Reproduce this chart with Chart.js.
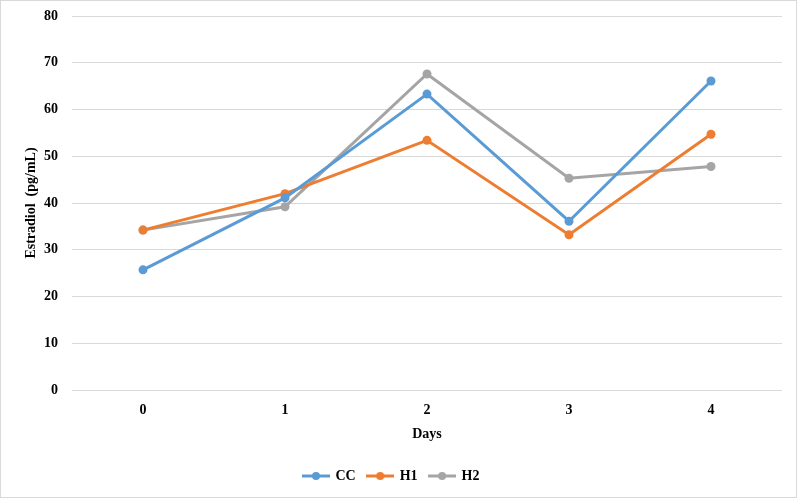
<!DOCTYPE html>
<html>
<head>
<meta charset="utf-8">
<script src="https://cdn.jsdelivr.net/npm/chart.js@4"></script>
<style>
  html, body { margin: 0; padding: 0; background: #fff; }
  #wrap { width: 795px; height: 496px; border: 1px solid #d9d9d9; }
</style>
</head>
<body>
<div id="wrap"><canvas id="chart" width="795" height="496"></canvas></div>
<script>
// データ
const days = ['0', '1', '2', '3', '4'];
const ccValues = [25.7, 41.1, 63.3, 36.1, 66.1];
const h1Values = [34.2, 42.0, 53.4, 33.2, 54.7];
const h2Values = [34.2, 39.2, 67.6, 45.3, 47.8];

const FONT = 'Liberation Serif, Times New Roman, serif';

// 凡例用の線+点アイコン
function legendIcon(color) {
    const c = document.createElement('canvas');
    c.width = 28; c.height = 10;
    const g = c.getContext('2d');
    g.strokeStyle = color; g.lineWidth = 3;
    g.beginPath(); g.moveTo(0, 5); g.lineTo(28, 5); g.stroke();
    g.fillStyle = color;
    g.beginPath(); g.arc(14, 5, 4, 0, Math.PI * 2); g.fill();
    return c;
}

function makeSet(label, data, color) {
    return {
        label: label,
        data: data,
        borderColor: color,
        backgroundColor: color,
        borderWidth: 3,
        pointRadius: 4.5,
        pointHoverRadius: 4.5,
        pointBorderWidth: 0,
        tension: 0,
        legendIcon: legendIcon(color)
    };
}

const ctx = document.getElementById('chart').getContext('2d');
new Chart(ctx, {
    type: 'line',
    data: {
        labels: days,
        datasets: [
            makeSet('CC', ccValues, '#5b9bd5'),
            makeSet('H1', h1Values, '#ed7d31'),
            makeSet('H2', h2Values, '#a5a5a5')
        ]
    },
    options: {
        responsive: false,
        animation: false,
        layout: { padding: { left: 0, right: 14, top: 15, bottom: 4 } },
        scales: {
            x: {
                offset: true,
                grid: { display: false, drawTicks: false },
                border: { display: false },
                ticks: { color: '#000', font: { family: FONT, size: 14, weight: 'bold' }, padding: 12 },
                title: { display: true, text: 'Days', color: '#000', font: { family: FONT, size: 14, weight: 'bold' }, padding: { top: 8, bottom: 14 } },
                afterFit: (axis) => { axis.height = 67; }
            },
            y: {
                min: 0, max: 80,
                grid: { color: '#d9d9d9', lineWidth: 1, drawTicks: false },
                border: { display: false },
                ticks: { stepSize: 10, color: '#000', font: { family: FONT, size: 14, weight: 'bold' }, padding: 14 },
                title: { display: true, text: 'Estradiol  (pg/mL)', color: '#000', font: { family: FONT, size: 14, weight: 'bold' }, padding: { top: 22 } },
                afterFit: (axis) => {
                    axis.width = 71;
                    axis.paddingTop = 8;
                    axis.paddingBottom = 8;
                }
            }
        },
        plugins: {
            tooltip: { enabled: false },
            legend: {
                position: 'bottom',
                labels: {
                    usePointStyle: true,
                    pointStyleWidth: 25,
                    color: '#000',
                    font: { family: FONT, size: 14, weight: 'bold' },
                    padding: 12,
                    generateLabels: (chart) => chart.data.datasets.map((ds, i) => ({
                        text: ds.label,
                        pointStyle: ds.legendIcon,
                        fillStyle: ds.borderColor,
                        strokeStyle: ds.borderColor,
                        lineWidth: 0,
                        fontColor: '#000',
                        datasetIndex: i,
                        hidden: false
                    }))
                }
            }
        }
    }
});
</script>
</body>
</html>
